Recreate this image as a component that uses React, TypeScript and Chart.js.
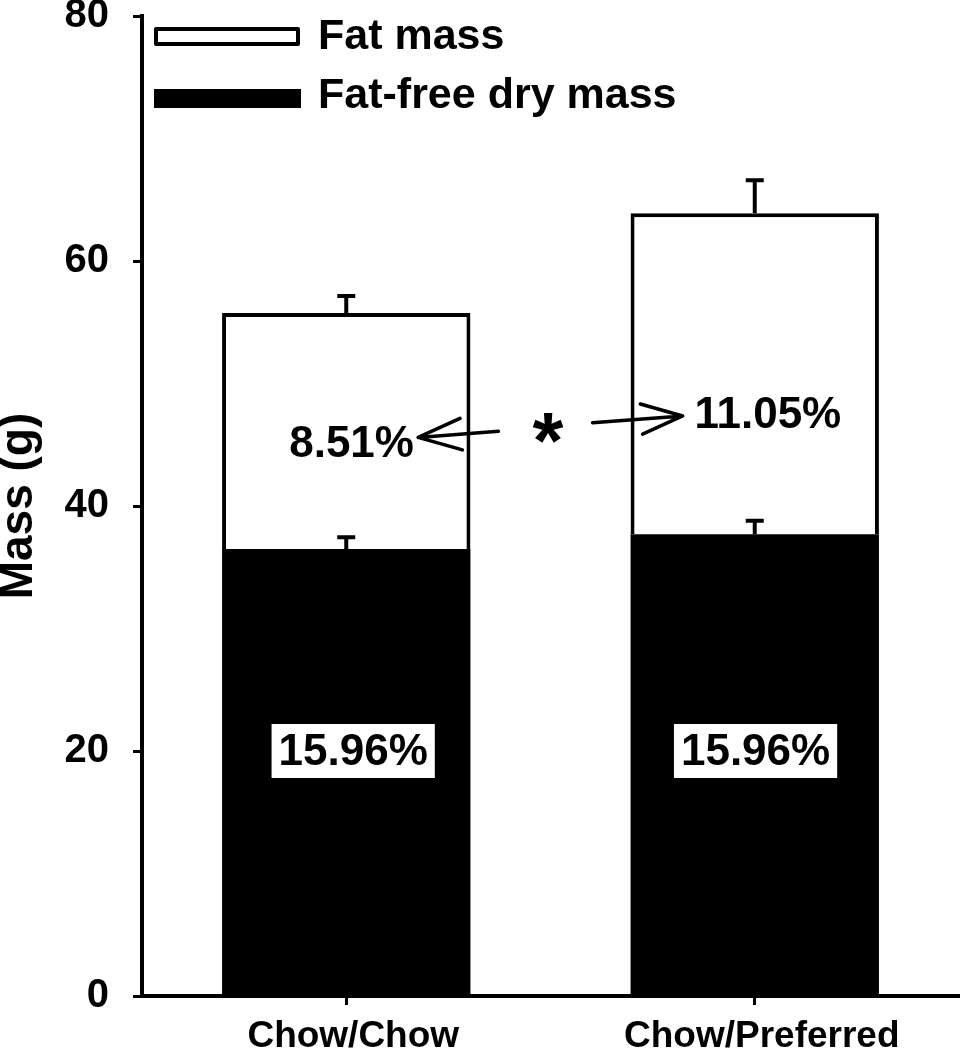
import React, { useEffect, useRef } from "react";
import { Chart, registerables } from "chart.js";

Chart.register(...registerables);

// ---- data ----
const categories = ["Chow/Chow", "Chow/Preferred"];
const fatFreeDryMass = [36.5, 37.7];
const fatMass = [19.25, 26.2];
const fatFreeErr = [0.95, 1.1];
const totalErr = [1.4, 2.7];
const yTicks = [0, 20, 40, 60, 80];
const fatFreePct = ["15.96%", "15.96%"];
const fatPct = ["8.51%", "11.05%"];
const legendLabels = ["Fat mass", "Fat-free dry mass"];

const FONT = "'Liberation Sans', Arial, Helvetica, sans-serif";

const errorBarPlugin = {
  id: "errorBars",
  afterDatasetsDraw(chart: any) {
    const ctx = chart.ctx;
    const y = chart.scales.y;
    const meta0 = chart.getDatasetMeta(0);
    ctx.save();
    ctx.strokeStyle = "#000";
    ctx.lineWidth = 4;
    ctx.lineCap = "butt";
    const cap = 9;
    categories.forEach((_, i) => {
      const x = meta0.data[i].x;
      const pairs = [
        [fatFreeDryMass[i], fatFreeErr[i]],
        [fatFreeDryMass[i] + fatMass[i], totalErr[i]],
      ];
      pairs.forEach(([v, e]) => {
        const y0 = y.getPixelForValue(v);
        const y1 = y.getPixelForValue(v + e);
        ctx.beginPath();
        ctx.moveTo(x, y0);
        ctx.lineTo(x, y1);
        ctx.moveTo(x - cap, y1);
        ctx.lineTo(x + cap, y1);
        ctx.stroke();
      });
    });
    ctx.restore();
  },
};

function arrow(ctx: any, x0: number, y0: number, x1: number, y1: number, head: number) {
  const ang = Math.atan2(y1 - y0, x1 - x0);
  const spread = 0.35;
  ctx.beginPath();
  ctx.moveTo(x0, y0);
  ctx.lineTo(x1, y1);
  ctx.moveTo(x1 - head * Math.cos(ang - spread), y1 - head * Math.sin(ang - spread));
  ctx.lineTo(x1, y1);
  ctx.lineTo(x1 - head * Math.cos(ang + spread), y1 - head * Math.sin(ang + spread));
  ctx.stroke();
}

const annotationPlugin = {
  id: "annotations",
  afterDatasetsDraw(chart: any) {
    const ctx = chart.ctx;
    const xs = chart.scales.x;
    const ys = chart.scales.y;
    const area = chart.chartArea;
    ctx.save();

    // percent boxes in fat-free bars
    ctx.font = `bold 44px ${FONT}`;
    ctx.textAlign = "center";
    ctx.textBaseline = "middle";
    const boxOffsets = [0.017, 0.002];
    fatFreePct.forEach((t, i) => {
      const cx = xs.getPixelForValue(i + boxOffsets[i]);
      const cy = ys.getPixelForValue(20);
      const w = ctx.measureText(t).width + 14;
      const h = 54;
      ctx.fillStyle = "#fff";
      ctx.fillRect(cx - w / 2, cy - h / 2, w, h);
      ctx.fillStyle = "#000";
      ctx.fillText(t, cx, cy + 2);
    });

    // fat percent labels
    ctx.textBaseline = "alphabetic";
    const fatPos = [
      [0.013, 44.0],
      [1.032, 46.4],
    ];
    fatPct.forEach((t, i) => {
      ctx.fillStyle = "#000";
      ctx.fillText(t, xs.getPixelForValue(fatPos[i][0]), ys.getPixelForValue(fatPos[i][1]));
    });

    // arrows
    ctx.strokeStyle = "#000";
    ctx.lineWidth = 3.5;
    ctx.lineCap = "round";
    ctx.lineJoin = "round";
    arrow(
      ctx,
      xs.getPixelForValue(0.3725), ys.getPixelForValue(46.1),
      xs.getPixelForValue(0.176), ys.getPixelForValue(45.6),
      46
    );
    arrow(
      ctx,
      xs.getPixelForValue(0.603), ys.getPixelForValue(46.8),
      xs.getPixelForValue(0.8235), ys.getPixelForValue(47.35),
      44
    );

    // star
    const cx = xs.getPixelForValue(0.494);
    const cy = ys.getPixelForValue(46.4);
    ctx.font = `bold 100px ${FONT}`;
    const m = ctx.measureText("*");
    const w100 = m.actualBoundingBoxLeft + m.actualBoundingBoxRight;
    const size = (100 * 31) / (w100 || 39);
    ctx.font = `bold ${size}px ${FONT}`;
    ctx.textAlign = "left";
    const m2 = ctx.measureText("*");
    const dx = cx - (m2.actualBoundingBoxRight - m2.actualBoundingBoxLeft) / 2;
    const dy = cy + (m2.actualBoundingBoxAscent - m2.actualBoundingBoxDescent) / 2;
    ctx.fillText("*", dx, dy);

    // legend
    const lx = area.left + 12;
    ctx.fillStyle = "#fff";
    ctx.strokeStyle = "#000";
    ctx.lineWidth = 4;
    ctx.lineJoin = "round";
    ctx.fillRect(lx + 2, 29, 142, 15);
    ctx.strokeRect(lx + 2, 29, 142, 15);
    ctx.fillStyle = "#000";
    ctx.fillRect(lx, 89, 147, 19);
    ctx.font = `bold 43px ${FONT}`;
    ctx.textAlign = "left";
    ctx.textBaseline = "alphabetic";
    ctx.fillText(legendLabels[0], area.left + 176, 49);
    ctx.fillText(legendLabels[1], area.left + 176, 108);

    ctx.restore();
  },
};

export default function App() {
  const ref = useRef<HTMLCanvasElement | null>(null);

  useEffect(() => {
    document.body.style.margin = "0";
    const canvas = ref.current;
    if (!canvas) return;
    const chart = new Chart(canvas, {
      type: "bar",
      data: {
        labels: categories,
        datasets: [
          {
            label: legendLabels[1],
            data: fatFreeDryMass,
            backgroundColor: "#000",
            borderColor: "#000",
            borderWidth: 0,
            barPercentage: 0.608,
            categoryPercentage: 1,
          },
          {
            label: legendLabels[0],
            data: fatMass,
            backgroundColor: "#fff",
            borderColor: "#000",
            borderWidth: 4,
            borderSkipped: "bottom",
            barPercentage: 0.608,
            categoryPercentage: 1,
          },
        ],
      },
      options: {
        responsive: false,
        animation: false,
        devicePixelRatio: 1,
        layout: { padding: { top: 16, right: 1, left: 0, bottom: 0 } },
        plugins: {
          legend: { display: false },
          tooltip: { enabled: false },
        },
        scales: {
          x: {
            stacked: true,
            offset: true,
            grid: {
              display: true,
              drawOnChartArea: false,
              drawTicks: true,
              tickLength: 9,
              color: "#000",
              lineWidth: 3,
              offset: false,
            },
            border: { display: true, color: "#000", width: 4 },
            ticks: {
              color: "#000",
              font: { family: FONT, size: 37, weight: "bold" },
              padding: 10,
              labelOffset: 7,
              maxRotation: 0,
              autoSkip: false,
            },
            afterFit(scale: any) {
              scale.height = 54;
              scale.paddingLeft = 0;
              scale.paddingRight = 0;
            },
          },
          y: {
            stacked: true,
            min: 0,
            max: 80,
            afterBuildTicks(scale: any) {
              scale.ticks = yTicks.map((v) => ({ value: v }));
            },
            grid: {
              display: true,
              drawOnChartArea: false,
              drawTicks: true,
              tickLength: 9,
              color: "#000",
              lineWidth: 3,
            },
            border: { display: true, color: "#000", width: 4 },
            ticks: {
              color: "#000",
              font: { family: FONT, size: 40, weight: "bold" },
              padding: 24,
            },
            title: {
              display: true,
              text: "Mass (g)",
              color: "#000",
              font: { family: FONT, size: 46, weight: "bold", lineHeight: 0.83 },
              padding: 0,
            },
            afterFit(scale: any) {
              scale.width = 142;
              scale.paddingTop = 0;
              scale.paddingBottom = 0;
            },
          },
        },
      },
      plugins: [errorBarPlugin, annotationPlugin],
    } as any);
    return () => chart.destroy();
  }, []);

  return (
    <div style={{ width: 960, height: 1050, background: "#fff" }}>
      <canvas ref={ref} width={960} height={1050} style={{ display: "block" }} />
    </div>
  );
}
